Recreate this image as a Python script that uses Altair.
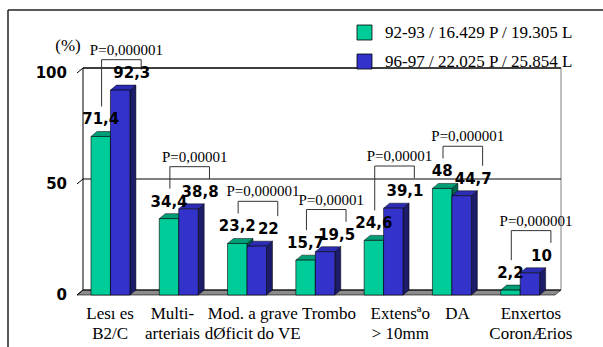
import altair as alt
import pandas as pd

# ---- data -------------------------------------------------------------
categories = [
    ["Lesı es", "B2/C"],
    ["Multi-", "arteriais"],
    ["Mod. a grave", "dØficit do VE"],
    ["Trombo"],
    ["Extensªo", "> 10mm"],
    ["DA"],
    ["Enxertos", "CoronÆrios"],
]
series_names = ["92-93 / 16.429 P / 19.305 L", "96-97 / 22.025 P / 25.854 L"]
values_9293 = [71.4, 34.4, 23.2, 15.7, 24.6, 48, 2.2]
values_9697 = [92.3, 38.8, 22, 19.5, 39.1, 44.7, 10]
p_labels = ["P=0,000001", "P=0,00001", "P=0,000001", "P=0,00001",
            "P=0,00001", "P=0,000001", "P=0,000001"]
y_ticks = [0, 50, 100]
y_unit = "(%)"

# ---- geometry / style -------------------------------------------------
W, H = 478, 222
N = len(categories)
Y_MAX = 100
BAR_START = 0.205          # gap before the first bar of a group (band units)
BAR_W = 0.285              # bar width (band units)
DX = 6 / (W / N)           # 3-D depth, horizontal (6 px)
DY = 5 / (H / Y_MAX)       # 3-D depth, vertical (5 px)
LABEL_NUDGE_PX = [-1, -7, 5, 13, 16, 5, 10]   # horizontal nudge of category captions

front_colors = ["#00CC99", "#3333CC"]
top_colors = ["#009E76", "#2C2CB4"]
side_colors = ["#00664E", "#1C1C68"]

SERIF = "Liberation Serif"
SANS = "DejaVu Sans"

xs = alt.Scale(domain=[0, N], nice=False, zero=False)
ys = alt.Scale(domain=[0, Y_MAX], nice=False, zero=False)


def fmt(v):
    return f"{v:g}".replace(".", ",")


# ---- derived tables ---------------------------------------------------
bars, sides, tops, vlabels = [], [], [], []
for i in range(N):
    for s, vals in enumerate([values_9293, values_9697]):
        v = vals[i]
        x0 = i + BAR_START + s * BAR_W
        x1 = x0 + BAR_W
        bid = f"{i}-{s}"
        bars.append(dict(id=bid, series=series_names[s], x0=x0, x1=x1, y0=0, v=v))
        sides.append(dict(id=bid, col=side_colors[s], x=x1, y=v, y2=0))
        sides.append(dict(id=bid, col=side_colors[s], x=x1 + DX, y=v + DY, y2=DY))
        tops.append(dict(id=bid, col=top_colors[s], y=v, x=x0, x2=x1))
        tops.append(dict(id=bid, col=top_colors[s], y=v + DY, x=x0 + DX, x2=x1 + DX))
        shift = 0.17 if s == 1 else 0.0
        vlabels.append(dict(x=(x0 + x1) / 2 + shift, v=v, text=fmt(v)))

bars = pd.DataFrame(bars)
sides = pd.DataFrame(sides)
tops = pd.DataFrame(tops)
vlabels = pd.DataFrame(vlabels)

# significance brackets sit above the taller bar of each pair
brackets, plabels = [], []
for i in range(N):
    a, b = values_9293[i], values_9697[i]
    top = min(max(a, b) + 19, 106)
    xl, xr = i + 0.36, i + 0.94
    brackets.append(dict(x=xl, x2=xl, y=min(a + 13.5, top - 4.5), y2=top))
    brackets.append(dict(x=xr, x2=xr, y=min(b + 13.5, top - 4.5), y2=top))
    brackets.append(dict(x=xl, x2=xr, y=top, y2=top))
    plabels.append(dict(x=(xl + xr) / 2, y=top, text=p_labels[i]))
brackets = pd.DataFrame(brackets)
plabels = pd.DataFrame(plabels)

# back wall and side wall edges
wall = [
    dict(x=DX, x2=N + DX, y=Y_MAX + DY, y2=Y_MAX + DY, c="#000000"),
    dict(x=DX, x2=DX, y=DY, y2=Y_MAX + DY, c="#000000"),
    dict(x=N + DX, x2=N + DX, y=DY, y2=Y_MAX + DY, c="#808080"),
]
for t in y_ticks:
    wall.append(dict(x=DX, x2=N + DX, y=t + DY, y2=t + DY, c="#000000"))
    wall.append(dict(x=0, x2=DX, y=t, y2=t + DY, c="#000000"))
wall = pd.DataFrame(wall)

floor = pd.DataFrame([dict(y=0, x=0, x2=N), dict(y=DY, x=DX, x2=N + DX)])

cats = pd.DataFrame([
    dict(x=i + 0.5 + LABEL_NUDGE_PX[i] / (W / N), text="\n".join(c))
    for i, c in enumerate(categories)
])
ytick_df = pd.DataFrame({"t": y_ticks, "text": [str(t) for t in y_ticks]})

# ---- layers -----------------------------------------------------------
# axes carrier: domain lines and tick marks of both axes
axis_layer = alt.Chart(pd.DataFrame({"x": [0, N], "y": [0, Y_MAX]})).mark_point(
    opacity=0, size=1
).encode(
    x=alt.X("x:Q", scale=xs, axis=alt.Axis(values=list(range(N + 1)), labels=False, title=None)),
    y=alt.Y("y:Q", scale=ys, axis=alt.Axis(values=y_ticks, labels=False, title=None)),
)

# y tick labels and unit caption
ylab_layer = alt.Chart(ytick_df).mark_text(
    font=SANS, fontWeight="bold", fontSize=15, align="right", baseline="middle",
    color="#000000", dx=-10
).encode(
    x=alt.value(0),
    y=alt.Y("t:Q", scale=ys, axis=None),
    text="text:N",
)
unit_layer = alt.Chart(pd.DataFrame({"text": [y_unit]})).mark_text(
    font=SERIF, fontSize=17, align="center", baseline="alphabetic", color="#000000"
).encode(x=alt.value(-9), y=alt.value(-22), text="text:N")

floor_layer = alt.Chart(floor).mark_area(
    orient="horizontal", fill="#8C8C8C", stroke="#000000", strokeWidth=0.6
).encode(
    y=alt.Y("y:Q", scale=ys, axis=None),
    x=alt.X("x:Q", scale=xs, axis=None),
    x2="x2:Q",
)

wall_layer = alt.Chart(wall).mark_rule(strokeWidth=1).encode(
    x=alt.X("x:Q", scale=xs, axis=None), x2="x2:Q",
    y=alt.Y("y:Q", scale=ys, axis=None), y2="y2:Q",
    color=alt.Color("c:N", scale=None),
)

side_layer = alt.Chart(sides).mark_area(stroke="#000000", strokeWidth=0.5).encode(
    x=alt.X("x:Q", scale=xs, axis=None),
    y=alt.Y("y:Q", scale=ys, axis=None), y2="y2:Q",
    detail="id:N",
    color=alt.Color("col:N", scale=None),
)

top_layer = alt.Chart(tops).mark_area(orient="horizontal", stroke="#000000", strokeWidth=0.5).encode(
    y=alt.Y("y:Q", scale=ys, axis=None),
    x=alt.X("x:Q", scale=xs, axis=None), x2="x2:Q",
    detail="id:N",
    color=alt.Color("col:N", scale=None),
)

front_layer = alt.Chart(bars).mark_rect(stroke="#000000", strokeWidth=0.6).encode(
    x=alt.X("x0:Q", scale=xs, axis=None),
    x2="x1:Q",
    y=alt.Y("y0:Q", scale=ys, axis=None),
    y2="v:Q",
    color=alt.Color("series:N", scale=alt.Scale(domain=series_names, range=front_colors),
                    legend=alt.Legend(
                        title=None, orient="none", legendX=279, legendY=-49,
                        symbolType="square", symbolSize=225, symbolStrokeColor="#000000",
                        symbolStrokeWidth=0.8, symbolOpacity=1, labelFont=SERIF,
                        labelFontSize=17, labelColor="#000000", labelOffset=12,
                        labelLimit=0, rowPadding=10, padding=0)),
)

value_layer = alt.Chart(vlabels).mark_text(
    font=SANS, fontWeight="bold", fontSize=15, dy=-12, baseline="alphabetic",
    align="center", color="#000000"
).encode(
    x=alt.X("x:Q", scale=xs, axis=None),
    y=alt.Y("v:Q", scale=ys, axis=None),
    text="text:N",
)

bracket_layer = alt.Chart(brackets).mark_rule(color="#333333", strokeWidth=1).encode(
    x=alt.X("x:Q", scale=xs, axis=None), x2="x2:Q",
    y=alt.Y("y:Q", scale=ys, axis=None), y2="y2:Q",
)

p_layer = alt.Chart(plabels).mark_text(
    font=SERIF, fontSize=15, dx=5, dy=-5, baseline="alphabetic", align="center",
    color="#000000"
).encode(
    x=alt.X("x:Q", scale=xs, axis=None),
    y=alt.Y("y:Q", scale=ys, axis=None),
    text="text:N",
)

cat_layer = alt.Chart(cats).mark_text(
    font=SERIF, fontSize=17, lineBreak="\n", lineHeight=20, baseline="top",
    align="center", color="#000000"
).encode(
    x=alt.X("x:Q", scale=xs, axis=None),
    y=alt.value(H + 11),
    text="text:N",
)

# outer frame (left and top edges)
frame = alt.Chart(pd.DataFrame({"k": [0]})).mark_rule(color="#222222", strokeWidth=1.5)
frame_left = frame.encode(x=alt.value(-69), y=alt.value(-63), y2=alt.value(H + 60))
frame_top = frame.encode(x=alt.value(-69), x2=alt.value(W + 60), y=alt.value(-63))

chart = alt.layer(
    axis_layer, floor_layer, wall_layer, side_layer, top_layer, front_layer,
    bracket_layer, value_layer, p_layer, cat_layer, ylab_layer, unit_layer,
    frame_left, frame_top,
).resolve_scale(
    color="independent"
).properties(
    width=W, height=H,
    padding={"left": 77, "top": 73, "right": 48, "bottom": 52},
    autosize="none",
    background="#FFFFFF",
).configure_view(
    strokeWidth=0
).configure_axis(
    grid=False, tickSize=5, tickColor="#000000", domainColor="#000000",
)

chart.save("out.html", embed_options={"renderer": "svg", "actions": False})
